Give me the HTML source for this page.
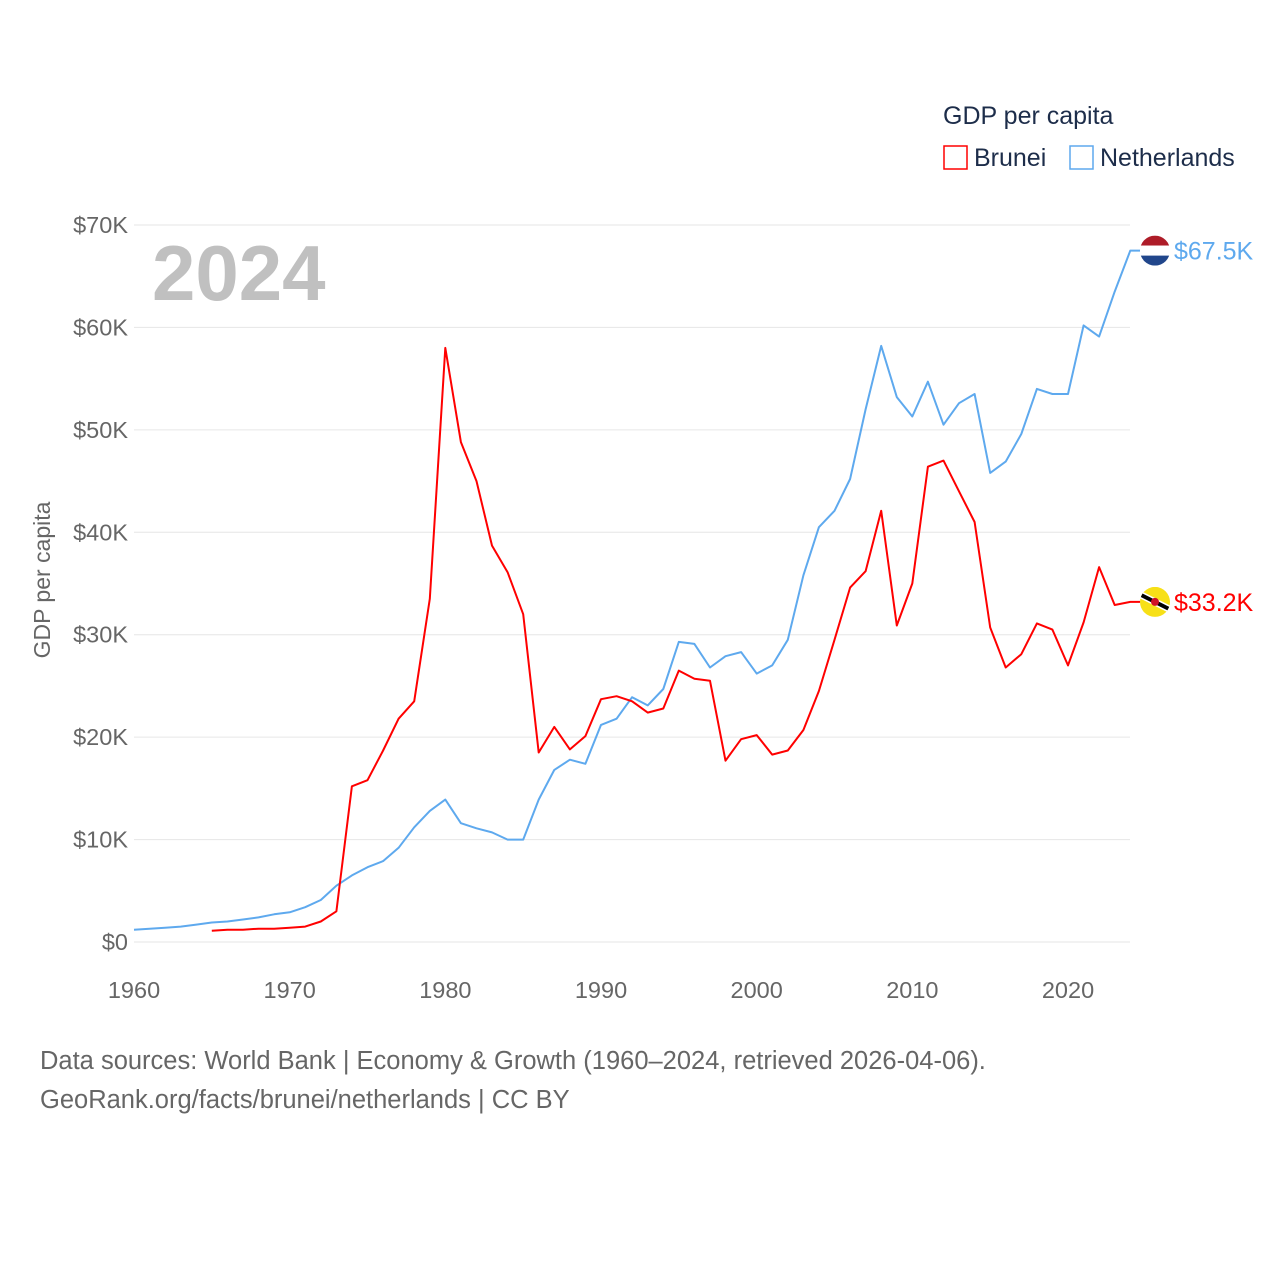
<!DOCTYPE html>
<html><head><meta charset="utf-8">
<style>
html,body{margin:0;padding:0;background:#fff;}
body{width:1280px;height:1280px;overflow:hidden;font-family:"Liberation Sans",sans-serif;}
svg text{font-family:"Liberation Sans",sans-serif;}
</style></head>
<body>
<svg id="chart" width="1280" height="1280" xmlns="http://www.w3.org/2000/svg">
<g id="grid"></g>
<g id="yticks"></g>
<g id="xticks"></g>
<text x="152" y="300" font-size="78" font-weight="bold" fill="#c0c0c0">2024</text>
<text transform="translate(50,580) rotate(-90)" text-anchor="middle" font-size="23" fill="#666">GDP per capita</text>
<g id="series"></g>
<g>
<text x="943" y="124" font-size="25" fill="#1d2d4a">GDP per capita</text>
<g><rect x="944" y="146" width="23" height="23" fill="none" stroke="#f00" stroke-width="1.5"/><text x="974" y="166" font-size="25" fill="#1d2d4a">Brunei</text></g>
<g><rect x="1070" y="146" width="23" height="23" fill="none" stroke="#5ea9ee" stroke-width="1.5"/><text x="1100" y="166" font-size="25" fill="#1d2d4a">Netherlands</text></g>
</g>
<g>
<text x="40" y="1069" font-size="25.5" fill="#666">Data sources: World Bank | Economy &amp; Growth (1960–2024, retrieved 2026-04-06).</text>
<text x="40" y="1108" font-size="25.5" fill="#666">GeoRank.org/facts/brunei/netherlands | CC BY</text>
</g>
</svg>
<script>
const nlYears=[1960,1961,1962,1963,1964,1965,1966,1967,1968,1969,1970,1971,1972,1973,1974,1975,1976,1977,1978,1979,1980,1981,1982,1983,1984,1985,1986,1987,1988,1989,1990,1991,1992,1993,1994,1995,1996,1997,1998,1999,2000,2001,2002,2003,2004,2005,2006,2007,2008,2009,2010,2011,2012,2013,2014,2015,2016,2017,2018,2019,2020,2021,2022,2023,2024];
const nlValues=[1.2,1.3,1.4,1.5,1.7,1.9,2.0,2.2,2.4,2.7,2.9,3.4,4.1,5.5,6.5,7.3,7.9,9.2,11.2,12.8,13.9,11.6,11.1,10.7,10.0,10.0,13.9,16.8,17.8,17.4,21.2,21.8,23.9,23.1,24.7,29.3,29.1,26.8,27.9,28.3,26.2,27.0,29.5,35.8,40.5,42.1,45.2,52.0,58.2,53.2,51.3,54.7,50.5,52.6,53.5,45.8,46.9,49.6,54.0,53.5,53.5,60.2,59.1,63.5,67.5];
const bnYears=[1965,1966,1967,1968,1969,1970,1971,1972,1973,1974,1975,1976,1977,1978,1979,1980,1981,1982,1983,1984,1985,1986,1987,1988,1989,1990,1991,1992,1993,1994,1995,1996,1997,1998,1999,2000,2001,2002,2003,2004,2005,2006,2007,2008,2009,2010,2011,2012,2013,2014,2015,2016,2017,2018,2019,2020,2021,2022,2023,2024];
const bnValues=[1.1,1.2,1.2,1.3,1.3,1.4,1.5,2.0,3.0,15.2,15.8,18.7,21.8,23.5,33.5,58.0,48.8,45.0,38.7,36.1,32.0,18.5,21.0,18.8,20.1,23.7,24.0,23.5,22.4,22.8,26.5,25.7,25.5,17.7,19.8,20.2,18.3,18.7,20.7,24.5,29.5,34.6,36.2,42.1,30.9,35.0,46.4,47.0,44.0,41.0,30.7,26.8,28.1,31.1,30.5,27.0,31.2,36.6,32.9,33.2];
const yTicks=[0,10,20,30,40,50,60,70];
const yTickLabels=["$0","$10K","$20K","$30K","$40K","$50K","$60K","$70K"];
const xTicks=[1960,1970,1980,1990,2000,2010,2020];

const NS="http://www.w3.org/2000/svg";
const x=yr=>134+(yr-1960)*(1068-134)/60;
const y=v=>942-v*(942-225)/70;
function mk(tag,attrs,parent){const e=document.createElementNS(NS,tag);for(const k in attrs)e.setAttribute(k,attrs[k]);parent.appendChild(e);return e;}
const grid=document.getElementById('grid'),yt=document.getElementById('yticks'),xt=document.getElementById('xticks'),ser=document.getElementById('series');
yTicks.forEach((v,i)=>{
  const l=mk('line',{x1:134,x2:1130,y1:y(v),y2:y(v),stroke:'#e6e6e6','stroke-width':1},grid);
  
  
  const t=mk('text',{x:128,y:y(v)+8,'text-anchor':'end','font-size':23.5,fill:'#666'},yt);
  t.textContent=yTickLabels[i];
  
  
});
xTicks.forEach(v=>{
  const t=mk('text',{x:x(v),y:998,'text-anchor':'middle','font-size':23.5,fill:'#666'},xt);
  t.textContent=v;
  
  
});
function line(years,vals,color,name){
  const d=years.map((yr,i)=>(i?'L':'M')+x(yr).toFixed(1)+','+y(vals[i]).toFixed(1)).join('')+'h10';
  const p=mk('path',{d:d,fill:'none',stroke:color,'stroke-width':2,'stroke-linejoin':'round'},ser);
  
  
}
line(nlYears,nlValues,'#5ea9ee','netherlands-line');
line(bnYears,bnValues,'#f00','brunei-line');
const nlLast=nlValues[nlValues.length-1],bnLast=bnValues[bnValues.length-1];
const fx=1155;
const nf=mk('g',{},ser);


const ny=y(nlLast);
mk('clipPath',{id:'cn'},nf);
mk('circle',{cx:fx,cy:ny,r:15},document.getElementById('cn'));
const ng=mk('g',{'clip-path':'url(#cn)'},nf);
mk('rect',{x:fx-15,y:ny-15,width:30,height:10,fill:'#ae1c28'},ng);
mk('rect',{x:fx-15,y:ny-5,width:30,height:10,fill:'#fff'},ng);
mk('rect',{x:fx-15,y:ny+5,width:30,height:10,fill:'#21468b'},ng);
const bf=mk('g',{},ser);


const by=y(bnLast);
mk('clipPath',{id:'cb'},bf);
mk('circle',{cx:fx,cy:by,r:15},document.getElementById('cb'));
const bg=mk('g',{'clip-path':'url(#cb)'},bf);
mk('rect',{x:fx-15,y:by-15,width:30,height:30,fill:'#f7e017'},bg);
mk('line',{x1:fx-16,y1:by-8,x2:fx+16,y2:by+8,stroke:'#fff','stroke-width':7},bg);
mk('line',{x1:fx-16,y1:by-8,x2:fx+16,y2:by+8,stroke:'#000','stroke-width':4},bg);
mk('circle',{cx:fx,cy:by,r:4,fill:'#cf1126'},bg);
const t1=mk('text',{x:1174,y:ny+9,'font-size':25,fill:'#5ea9ee'},ser);
t1.textContent='$'+nlLast.toFixed(1)+'K';


const t2=mk('text',{x:1174,y:by+9,'font-size':25,fill:'#f00'},ser);
t2.textContent='$'+bnLast.toFixed(1)+'K';


</script>
</body></html>
